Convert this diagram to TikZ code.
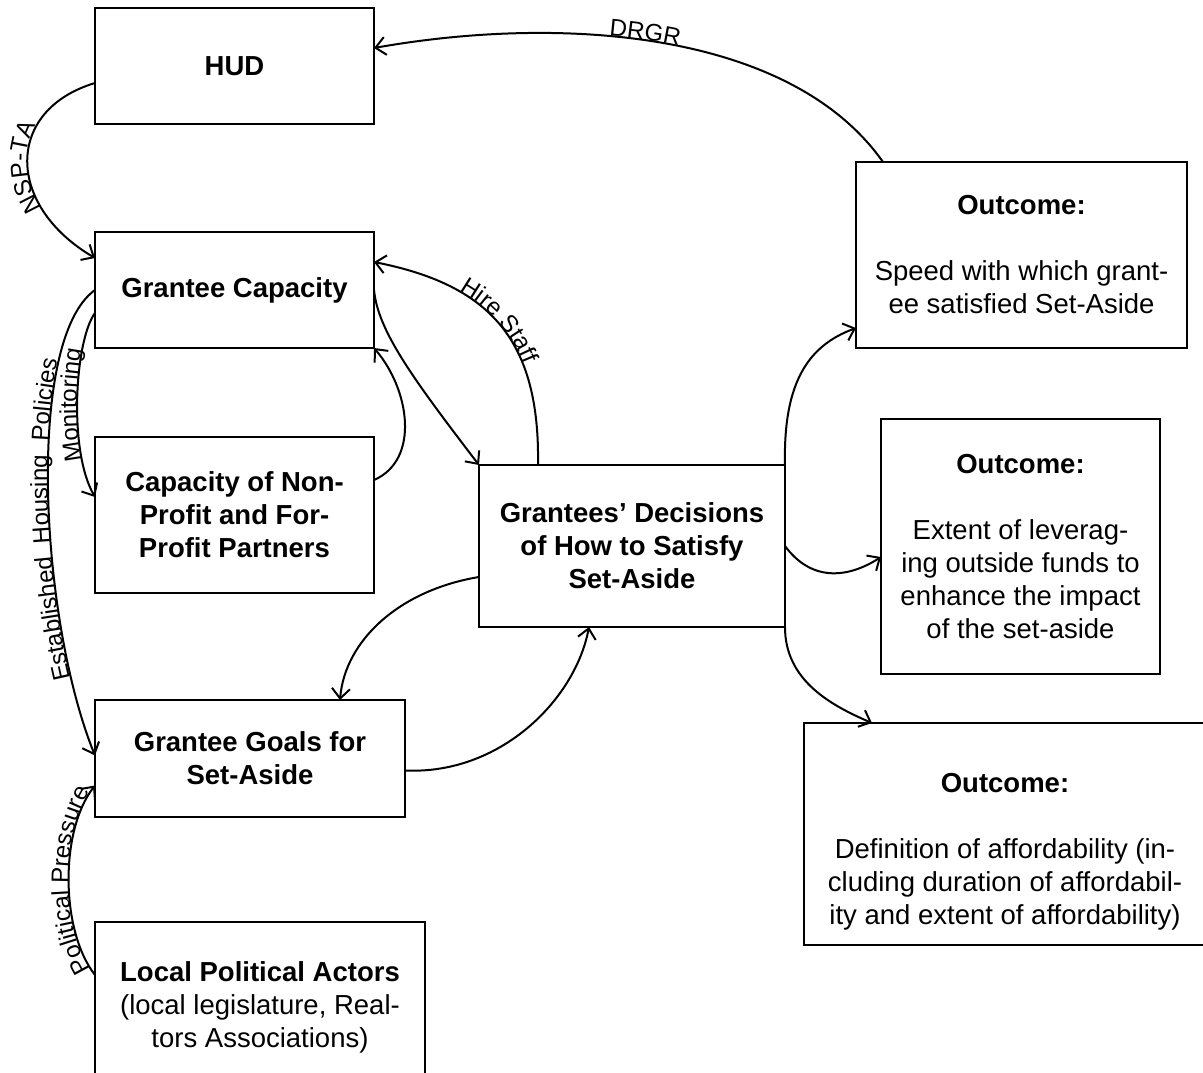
\documentclass[tikz,border=0pt]{standalone}
\usepackage{fontspec}
\setmainfont{Liberation Sans}
\usetikzlibrary{arrows.meta,decorations.text}
\newcommand\lblfont{\fontsize{24}{24}\selectfont}
\tikzset{
  box/.style={draw, line width=2pt, inner sep=0pt, outer sep=0pt, align=center,
    font=\fontsize{27.5}{33}\selectfont},
  txt/.style={inner sep=0pt, align=center, font=\fontsize{27.5}{33}\selectfont},
  conn/.style={line width=2pt, -{Straight Barb[length=10pt,width=18pt]}},
  lblc/.style={decorate, decoration={text along path, text={|\lblfont|#1},
    text align=center, raise=0.5pt}},
  lbll/.style 2 args={decorate, decoration={text along path, text={|\lblfont|#2},
    text align={left indent=#1}, raise=0.5pt}},
}
\begin{document}
\begin{tikzpicture}[x=1pt,y=-1pt]
\clip (0,0) rectangle (1203,1073);
% boxes
\node[box, minimum width=279pt, minimum height=116pt] (hud) at (234.5,66) {\bfseries HUD};
\node[box, minimum width=279pt, minimum height=116pt] (gcap) at (234.5,290) {\bfseries Grantee Capacity};
\node[box, minimum width=279pt, minimum height=156pt] (cnp) at (234.5,515)
  {\bfseries Capacity of Non-\\\bfseries Profit and For-\\\bfseries Profit Partners};
\node[box, minimum width=310pt, minimum height=117pt] (goals) at (250,758.5)
  {\bfseries Grantee Goals for\\\bfseries Set-Aside};
\node[box, minimum width=330pt, minimum height=170pt] (local) at (260,1007)
  {\bfseries Local Political Actors\\(local legislature, Real-\\tors Associations)};
\node[box, minimum width=306pt, minimum height=162pt] (dec) at (632,546)
  {\bfseries Grantees’ Decisions\\\bfseries of How to Satisfy\\\bfseries Set-Aside};
\node[box, minimum width=331pt, minimum height=186pt] (out1) at (1021.5,255)
  {\bfseries Outcome:\\[33pt]Speed with which grant-\\ee satisfied Set-Aside};
\node[box, minimum width=279pt, minimum height=255pt] (out2) at (1020.5,546.5)
  {\bfseries Outcome:\\[33pt]Extent of leverag-\\ing outside funds to\\enhance the impact\\of the set-aside};
\node[box, minimum width=402pt, minimum height=222pt] (out3) at (1005,834) {};
\node[txt] (out3t) at (1005,852)
  {\bfseries Outcome:\\[33pt]Definition of affordability (in-\\cluding duration of affordabil-\\ity and extent of affordability)};

% connectors
\draw[conn] ([yshift=-17pt]hud.west) .. controls (5,110) and (5,205) .. ([yshift=32pt]gcap.west);
\path[lblc={NSP-TA}] ([yshift=32pt]gcap.west) .. controls (5,205) and (5,110) .. ([yshift=-17pt]hud.west);

\draw[conn] ([xshift=-138.5pt]out1.north) .. controls (790,30) and (560,15) .. ([yshift=18pt]hud.east);
\path[lbll={236pt}{DRGR}] ([yshift=18pt]hud.east) .. controls (560,15) and (790,30) .. ([xshift=-138.5pt]out1.north);

\draw[conn] (gcap.east) .. controls (378,330) and (410,375) .. (dec.north west);

\draw[conn] ([xshift=-94pt]dec.north) .. controls (540,340) and (490,285) .. ([yshift=28pt]gcap.east);
\path[lbll={90pt}{Hire Staff}] ([yshift=28pt]gcap.east) .. controls (490,285) and (540,340) .. ([xshift=-94pt]dec.north);

\draw[conn] ([yshift=35pt]cnp.east) .. controls (420,460) and (410,390) .. (gcap.south east);

\draw[conn] ([yshift=-23pt]gcap.west) .. controls (75,340) and (68,450) .. ([yshift=18pt]cnp.west);
\path[lblc={Monitoring}] ([yshift=18pt]cnp.west) .. controls (68,450) and (75,340) .. ([yshift=-23pt]gcap.west);

\draw[conn] (gcap.west) .. controls (25,340) and (40,620) .. ([yshift=3pt]goals.west);
\path[lblc={Established{\ }{\ }Housing{\ }{\ }Policies}] ([yshift=3pt]goals.west) .. controls (40,620) and (25,340) .. (gcap.west);

\draw[conn, postaction={lblc={Political Pressure}}] ([yshift=32pt]local.west) .. controls (60,930) and (60,830) .. ([yshift=-27pt]goals.west);

\draw[conn] ([yshift=-31pt]dec.west) .. controls (400,590) and (345,640) .. ([xshift=90pt]goals.north);
\draw[conn] ([yshift=-12pt]goals.east) .. controls (500,775) and (575,700) .. ([xshift=-43pt]dec.south);

\draw[conn] (dec.north east) .. controls (783,380) and (810,345) .. ([yshift=-73pt]out1.west);
\draw[conn] (dec.east) .. controls (810,580) and (845,580) .. ([yshift=-10.5pt]out2.west);
\draw[conn] (dec.south east) .. controls (785,680) and (830,705) .. ([xshift=-133pt]out3.north);
\end{tikzpicture}
\end{document}
